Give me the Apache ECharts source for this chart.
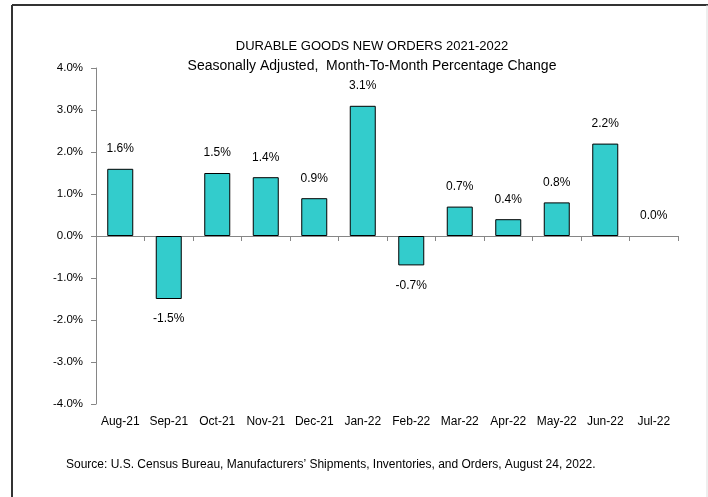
<!DOCTYPE html>
<html><head><meta charset="utf-8">
<script src="https://cdn.jsdelivr.net/npm/echarts@6/dist/echarts.min.js"></script>
<style>html,body{margin:0;padding:0;background:#fff}#c{width:708px;height:497px}</style>
</head><body><div id="c"></div>
<script>
const categories = ['Aug-21','Sep-21','Oct-21','Nov-21','Dec-21','Jan-22','Feb-22','Mar-22','Apr-22','May-22','Jun-22','Jul-22'];
const values = [1.6,-1.5,1.5,1.4,0.9,3.1,-0.7,0.7,0.4,0.8,2.2,0.0];
const yTicks = [-4,-3,-2,-1,0,1,2,3,4];
const titleText = 'DURABLE GOODS NEW ORDERS 2021-2022';
const subtitleText = 'Seasonally Adjusted,  Month-To-Month Percentage Change';
const sourceText = 'Source: U.S. Census Bureau, Manufacturers\u2019 Shipments, Inventories, and Orders, August 24, 2022.';

const FONT = "'Liberation Sans', Arial, sans-serif";
const chart = echarts.init(document.getElementById('c'), null, {renderer:'canvas'});
chart.setOption({
  animation:false,
  backgroundColor:'#fff',
  graphic:[
    {type:'line', shape:{x1:12,y1:5,x2:708,y2:5}, style:{stroke:'#333',lineWidth:2}},
    {type:'line', shape:{x1:12,y1:5,x2:12,y2:497}, style:{stroke:'#333',lineWidth:2}},
    {type:'line', shape:{x1:707,y1:5,x2:707,y2:497}, style:{stroke:'#ddd',lineWidth:1}},
    {type:'text', style:{text:titleText, x:372, y:46, align:'center', verticalAlign:'middle', font:"13px "+FONT, fill:'#000'}},
    {type:'text', style:{text:subtitleText, x:372, y:66, align:'center', verticalAlign:'middle', font:"14px "+FONT, fill:'#000'}},
    {type:'text', style:{text:sourceText, x:66, y:465, align:'left', verticalAlign:'middle', font:"12px "+FONT, fill:'#000'}}
  ],
  grid:{left:96, right:30, top:68, bottom:93},
  xAxis:[
    {type:'category', data:categories, position:'bottom',
     axisLine:{onZero:true, lineStyle:{color:'#868686'}},
     axisTick:{show:true, interval:0, alignWithLabel:false, length:5, lineStyle:{color:'#868686'}},
     axisLabel:{show:false}},
    {type:'category', data:categories, position:'bottom',
     axisLine:{show:false, onZero:false}, axisTick:{show:false},
     axisLabel:{show:true, interval:0, color:'#000', fontSize:12, fontFamily:FONT, margin:12}}
  ],
  yAxis:{type:'value', min:yTicks[0], max:yTicks[yTicks.length-1], interval:1,
    axisLine:{show:true, lineStyle:{color:'#868686'}},
    axisTick:{show:true, length:5, lineStyle:{color:'#868686'}},
    splitLine:{show:false},
    axisLabel:{formatter:v=>v.toFixed(1)+'%', color:'#000', fontSize:11.5, fontFamily:FONT, margin:13}},
  series:[{
    type:'bar', xAxisIndex:0, barWidth:26,
    itemStyle:{color:'#33CCCC', borderColor:'#000', borderWidth:1},
    data: values.map(v=>({value:v, label:{position: v<0?'bottom':'top'},
      itemStyle: v===0 ? {borderWidth:0} : undefined})),
    label:{show:true, distance:14, formatter:p=>p.value.toFixed(1)+'%', color:'#000', fontSize:12, fontFamily:FONT}
  }]
});
</script></body></html>
